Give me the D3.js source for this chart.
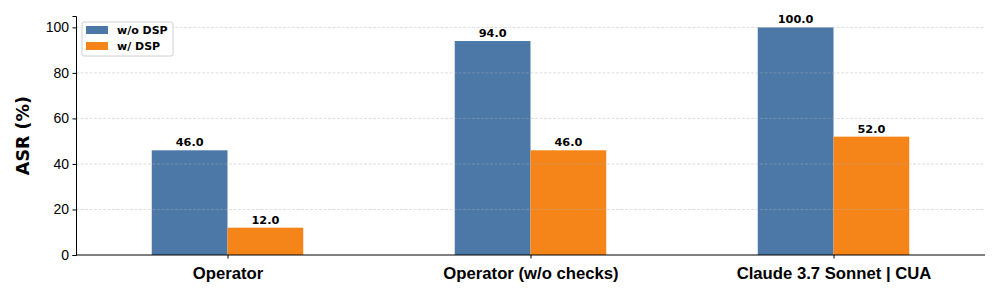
<!DOCTYPE html>
<html>
<head>
<meta charset="utf-8">
<script src="https://cdn.jsdelivr.net/npm/d3@7"></script>
<style>
	body { margin: 0; background: #fff; }
	svg { font-family: 'DejaVu Sans', sans-serif; }
</style>
</head>
<body>
<div id="chart"></div>
<script>
const categories = ['Operator', 'Operator (w/o checks)', 'Claude 3.7 Sonnet | CUA'];
const seriesNames = ['w/o DSP', 'w/ DSP'];
const withoutDsp = [46.0, 94.0, 100.0];
const withDsp = [12.0, 46.0, 52.0];
const yTicks = [0, 20, 40, 60, 80, 100];
const colors = ['#4c78a8', '#f58518'];

const width = 1000, height = 300;
const margin = { top: 16, right: 15, bottom: 45, left: 76 };

const svg = d3.select('#chart').append('svg')
	.attr('width', width)
	.attr('height', height);

// x in category units, like matplotlib positions 0..n-1
const x = d3.scaleLinear()
	.domain([-0.5, categories.length - 0.5])
	.range([margin.left, width - margin.right]);

const y = d3.scaleLinear()
	.domain([0, 105])
	.range([height - margin.bottom, margin.top]);

const barW = 0.25;
const series = [withoutDsp, withDsp];

// Bars
series.forEach((vals, s) => {
	const off = s === 0 ? -barW / 2 : barW / 2;
	svg.append('g').selectAll('rect')
		.data(vals)
		.join('rect')
		.attr('x', (d, i) => x(i + off - barW / 2))
		.attr('width', x(barW) - x(0))
		.attr('y', d => y(d))
		.attr('height', d => y(0) - y(d))
		.attr('fill', colors[s]);

	svg.append('g').selectAll('text')
		.data(vals)
		.join('text')
		.attr('x', (d, i) => x(i + off))
		.attr('y', d => y(d) - 4)
		.attr('text-anchor', 'middle')
		.attr('font-size', 11.3)
		.attr('font-weight', 'bold')
		.text(d => d.toFixed(1));
});

// Grid (drawn over bars, as in the reference)
svg.append('g').selectAll('line')
	.data(yTicks.slice(1))
	.join('line')
	.attr('x1', margin.left)
	.attr('x2', width - margin.right)
	.attr('y1', d => y(d))
	.attr('y2', d => y(d))
	.attr('stroke', '#b0b0b0')
	.attr('stroke-opacity', 0.5)
	.attr('stroke-width', 0.8)
	.attr('stroke-dasharray', '3,1.5');

// Axes
const yAxis = d3.axisLeft(y).tickValues(yTicks).tickSize(3.5).tickPadding(3.5);
const gy = svg.append('g')
	.attr('transform', `translate(${margin.left},0)`)
	.call(yAxis);
gy.selectAll('text').attr('font-size', 14).attr('fill', '#000');
gy.select('.domain').attr('stroke', '#000');
gy.selectAll('.tick line').attr('stroke', '#000');

const xAxis = d3.axisBottom(x)
	.tickValues(d3.range(categories.length))
	.tickFormat(i => categories[i])
	.tickSize(3.5)
	.tickPadding(9);
const gx = svg.append('g')
	.attr('transform', `translate(0,${y(0)})`)
	.call(xAxis);
gx.selectAll('text').attr('font-size', 16.7).attr('font-weight', 'bold').attr('fill', '#000');
gx.select('.domain').attr('stroke', '#000').attr('d', `M${margin.left},0H${width - margin.right}`);
gx.selectAll('.tick line').attr('stroke', '#000');

// Y label
svg.append('text')
	.attr('transform', `translate(29,${(margin.top + y(0)) / 2}) rotate(-90)`)
	.attr('text-anchor', 'middle')
	.attr('font-size', 17.5)
	.attr('font-weight', 'bold')
	.text('ASR (%)');

// Legend
const lg = svg.append('g').attr('transform', `translate(${margin.left + 6},22)`);
lg.append('rect')
	.attr('width', 91).attr('height', 34)
	.attr('rx', 2)
	.attr('fill', '#fff').attr('fill-opacity', 0.8)
	.attr('stroke', '#d0d0d0');
seriesNames.forEach((name, i) => {
	lg.append('rect')
		.attr('x', 4).attr('y', 4 + i * 16)
		.attr('width', 22).attr('height', 8)
		.attr('fill', colors[i]);
	lg.append('text')
		.attr('x', 35).attr('y', 12 + i * 16)
		.attr('font-size', 11)
		.attr('font-weight', 'bold')
		.text(name);
});
</script>
</body>
</html>
